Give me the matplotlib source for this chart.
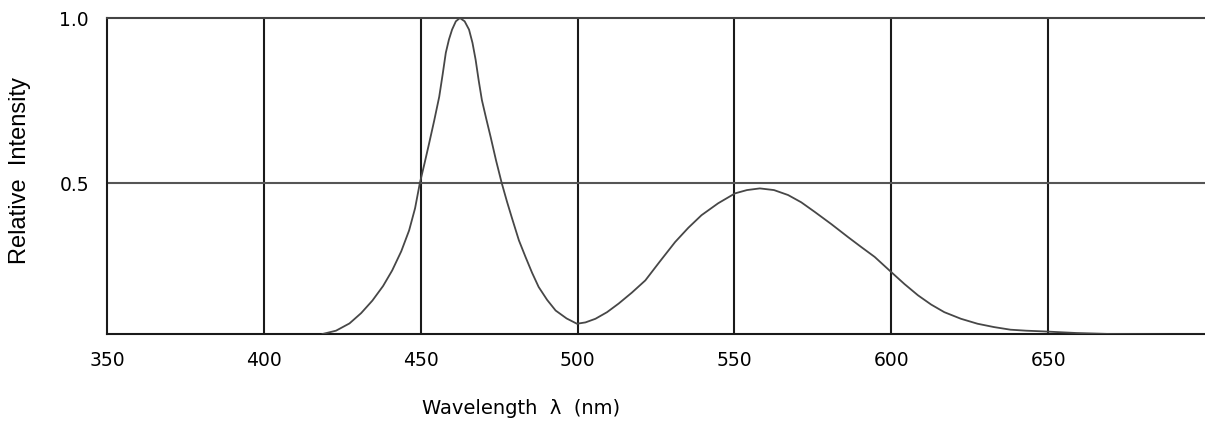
import matplotlib
matplotlib.use("Agg")
import matplotlib.pyplot as plt

# Spectrum
wavelength = [418.7, 423.0, 427.3, 431.0, 434.6, 438.0, 440.9, 443.8, 446.3, 448.2,
              449.7, 451.2, 452.7, 454.3, 455.9, 457.0, 458.0, 459.0, 460.0, 461.2,
              462.5, 464.0, 465.4, 466.5, 467.5, 468.5, 469.5, 470.9, 472.3, 474.0,
              475.8, 477.5, 479.1, 481.3, 483.4, 485.5, 487.6, 490.3, 493.0, 496.5,
              499.8, 502.5, 505.7, 509.4, 513.1, 517.3, 521.6, 526.3, 531.1, 535.3,
              539.5, 544.8, 550.2, 554.0, 558.1, 562.6, 567.1, 571.3, 575.6, 580.9,
              586.2, 590.4, 594.7, 600.0, 604.2, 608.5, 612.7, 616.9, 622.2, 627.5,
              632.7, 638.0, 643.0, 648.2, 659.0, 669.8, 680.0, 688.9, 700.0]
intensity = [0.045, 0.055, 0.077, 0.108, 0.146, 0.190, 0.237, 0.295, 0.358, 0.425,
             0.500, 0.560, 0.622, 0.690, 0.762, 0.830, 0.895, 0.935, 0.965, 0.990,
             1.000, 0.990, 0.965, 0.925, 0.874, 0.810, 0.752, 0.695, 0.640, 0.570,
             0.502, 0.445, 0.395, 0.328, 0.278, 0.230, 0.187, 0.148, 0.116, 0.092,
             0.076, 0.080, 0.091, 0.111, 0.137, 0.170, 0.207, 0.265, 0.323, 0.366,
             0.404, 0.440, 0.470, 0.480, 0.485, 0.480, 0.465, 0.443, 0.414, 0.377,
             0.338, 0.308, 0.278, 0.232, 0.196, 0.162, 0.134, 0.111, 0.091, 0.076,
             0.066, 0.058, 0.055, 0.053, 0.048, 0.045, 0.044, 0.043, 0.043]

x_ticks = [350, 400, 450, 500, 550, 600, 650]
x_tick_labels = ["350", "400", "450", "500", "550", "600", "650"]
y_ticks = [0.5, 1.0]
y_tick_labels = ["0.5", "1.0"]

fig = plt.figure(figsize=(12.05, 4.26), dpi=100)
ax = fig.add_axes([107 / 1205, 1 - 334 / 426, 1 - 107 / 1205, (334 - 18) / 426])

ax.plot(wavelength, intensity, color="#474747", lw=1.3, zorder=3)

ax.set_xlim(350, 700)
ax.set_ylim(0.045, 1.0)

# grid lines
for xv in x_ticks[1:]:
    ax.axvline(xv, color="#1a1a1a", lw=1.5, zorder=2)
ax.axhline(0.5, color="#555555", lw=1.5, zorder=2)

for s in ["left", "bottom", "top"]:
    ax.spines[s].set_linewidth(1.5)
    ax.spines[s].set_color("#1a1a1a")
ax.spines["top"].set_color("#444444")
ax.spines["right"].set_visible(False)

ax.set_xticks(x_ticks)
ax.set_xticklabels(x_tick_labels, fontsize=13.5)
ax.set_yticks(y_ticks)
ax.set_yticklabels(y_tick_labels, fontsize=13.5)
ax.tick_params(axis="x", length=0, pad=12)
ax.tick_params(axis="y", length=0, pad=13)

fig.text(20 / 1205, 1 - 170 / 426, "Relative  Intensity", rotation=90,
         ha="center", va="center", fontsize=17, family="Liberation Sans")
fig.text(521 / 1205, 1 - 409 / 426, "Wavelength  λ  (nm)",
         ha="center", va="center", fontsize=14)

fig.savefig("out.png", dpi=100)
